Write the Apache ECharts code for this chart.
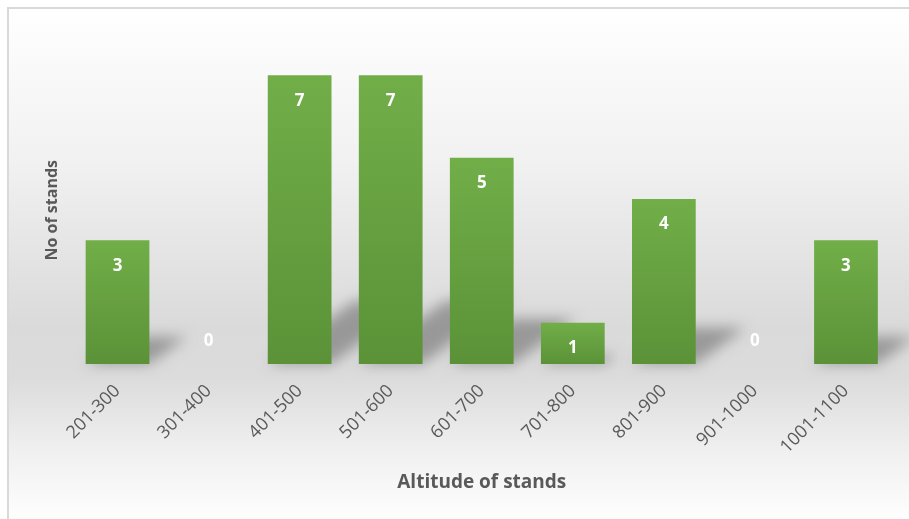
<!DOCTYPE html>
<html>
<head>
<meta charset="utf-8">
<script src="https://cdn.jsdelivr.net/npm/echarts@6/dist/echarts.min.js"></script>
<style>html,body{margin:0;padding:0;background:#fff}#c{width:909px;height:519px}</style>
</head>
<body>
<div id="c"></div>
<script>
const categories = ['201-300','301-400','401-500','501-600','601-700','701-800','801-900','901-1000','1001-1100'];
const stands = [3, 0, 7, 7, 5, 1, 4, 0, 3];
const xTitle = 'Altitude of stands';
const yTitle = 'No of stands';

const chart = echarts.init(document.getElementById('c'), null, {renderer: 'canvas'});
const font = '"Open Sans", "Noto Sans", sans-serif';

const option = {
  animation: false,
  graphic: [
    {type: 'rect', z: -10, shape: {x: 8, y: 8, width: 905, height: 515},
     style: {fill: new echarts.graphic.LinearGradient(0, 0, 0, 1, [
       {offset: 0, color: '#ffffff'},
       {offset: 0.3, color: '#f1f1f1'},
       {offset: 0.62, color: '#dadada'},
       {offset: 0.72, color: '#dcdcdc'},
       {offset: 0.86, color: '#f0f0f0'},
       {offset: 1, color: '#ffffff'}
     ]), stroke: '#d9d9d9', lineWidth: 2}},
    {type: 'text', left: 44, top: 160, rotation: Math.PI / 2,
     style: {text: yTitle, fill: '#595959', font: 'bold 16px ' + font}}
  ],
  grid: {left: 72, right: 17.5, top: 34, bottom: 155, containLabel: false},
  xAxis: {
    type: 'category', data: categories,
    axisLine: {show: false}, axisTick: {show: false},
    axisLabel: {rotate: 45, margin: 24, color: '#595959', fontSize: 18, fontFamily: font, interval: 0},
    name: xTitle, nameLocation: 'middle', nameGap: 109,
    nameTextStyle: {color: '#595959', fontSize: 19, fontWeight: 'bold', fontFamily: font}
  },
  yAxis: {type: 'value', min: 0, max: 8, show: false, splitLine: {show: false}},
  series: [
    {
      type: 'custom', z: 1, silent: true,
      data: stands.map((v, i) => [i, v]),
      renderItem: function (params, api) {
        const v = api.value(1), i = api.value(0);
        if (!v) return null;
        const base = api.coord([i, 0]);
        const top = api.coord([i, v]);
        const w = api.size([1, 0])[0] * 0.7;
        const h = base[1] - top[1];
        const x0 = base[0] - w / 2, x1 = base[0] + w / 2;
        const dx = h * 0.3, dy = h * 0.22;
        const off = 3000;
        return {
          type: 'polygon',
          shape: {points: [[x0 - off, base[1]], [x1 - off, base[1]], [x1 + dx - off, base[1] - dy], [x0 + dx - off, base[1] - dy]]},
          style: {fill: 'rgba(0,0,0,1)', shadowBlur: 14, shadowColor: 'rgba(0,0,0,0.3)', shadowOffsetX: off, shadowOffsetY: 0}
        };
      }
    },
    {
      type: 'bar', z: 2, barWidth: '70%',
      data: stands.map(v => v === 0
        ? {value: v, label: {position: 'top', distance: 14}}
        : {value: v}),
      itemStyle: {color: new echarts.graphic.LinearGradient(0, 0, 0, 1, [
        {offset: 0, color: '#71ae48'},
        {offset: 1, color: '#5b9238'}
      ])},
      label: {show: true, position: 'insideTop', distance: 17, color: '#ffffff',
        fontSize: 17, fontWeight: 'bold', fontFamily: font}
    }
  ]
};
chart.setOption(option);
</script>
</body>
</html>
